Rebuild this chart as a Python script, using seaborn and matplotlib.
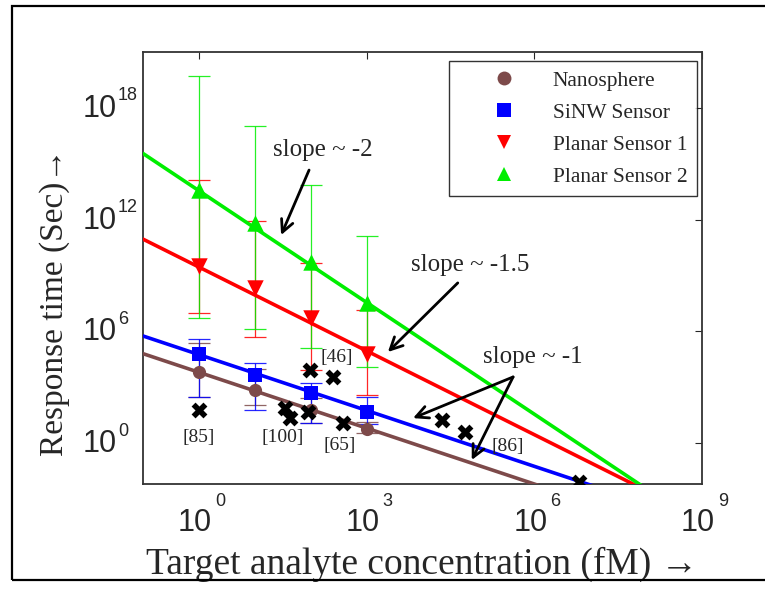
import numpy as np
import pandas as pd
import matplotlib
matplotlib.use("Agg")
import matplotlib.pyplot as plt
import seaborn as sns
from matplotlib.lines import Line2D
from matplotlib.patches import Rectangle

# ---- data (all values are log10) -------------------------------------------
# target concentration (fM) at which each sensor type was evaluated
conc_log = [0, 1, 2, 3]

series_names = ["Nanosphere", "SiNW Sensor", "Planar Sensor 1", "Planar Sensor 2"]

# response time (s)
nanosphere_t = [3.8, 2.83, 1.8, 0.75]
sinw_t = [4.76, 3.64, 2.67, 1.66]
planar1_t = [9.52, 8.32, 6.71, 4.8]
planar2_t = [13.6, 11.8, 9.7, 7.5]

# error-bar limits (s): lower / upper
nanosphere_lo = [2.46, 2.03, 1.07, 0.55]
nanosphere_hi = [5.4, 4.0, 2.4, 1.12]
sinw_lo = [2.46, 1.76, 1.07, 1.0]
sinw_hi = [5.6, 4.28, 3.2, 2.47]
planar1_lo = [7.0, 5.67, 3.9, 2.57]
planar1_hi = [14.1, 11.9, 9.68, 7.17]
planar2_lo = [6.7, 6.15, 5.08, 4.06]
planar2_hi = [19.7, 17.0, 13.85, 11.1]

# power-law trends: log t = intercept + slope * log C
trend_intercept = [3.8, 4.75, 9.45, 13.55]
trend_slope = [-1.0, -1.0, -1.5, -2.0]

# reported experiments from the literature
lit_conc = [0, 1.54, 1.63, 1.95, 1.99, 2.4, 2.58, 4.35, 4.76, 6.8]
lit_time = [1.77, 1.88, 1.34, 1.66, 3.92, 3.54, 1.07, 1.24, 0.6, -2.1]
ref_labels = ["[85]", "[100]", "[46]", "[65]", "[86]"]

# decade ticks
x_tick_exp = [0, 3, 6, 9]
y_tick_exp = [0, 6, 12, 18]

# ---- styling ----------------------------------------------------------------
sns.set_style("white")
plt.rcParams["font.family"] = ["Liberation Serif", "DejaVu Serif"]

colors = ["#7d4a4a", "#0000ff", "#ff0000", "#00ee00"]
markers = ["o", "s", "v", "^"]
msizes = [90, 105, 140, 140]
palette = dict(zip(series_names, colors))

times = [nanosphere_t, sinw_t, planar1_t, planar2_t]
lows = [nanosphere_lo, sinw_lo, planar1_lo, planar2_lo]
highs = [nanosphere_hi, sinw_hi, planar1_hi, planar2_hi]

points = pd.DataFrame({
    "series": np.repeat(series_names, len(conc_log)),
    "conc": np.tile(10.0 ** np.array(conc_log), len(series_names)),
    "time": 10.0 ** np.concatenate(times),
})

xlim_log = (-1, 9)
ylim_log = (-2.2, 21)
span = np.array(xlim_log, dtype=float)
trend = pd.DataFrame({
    "series": np.repeat(series_names, 2),
    "conc": np.tile(10.0 ** span, len(series_names)),
    "time": 10.0 ** np.concatenate(
        [b + m * span for b, m in zip(trend_intercept, trend_slope)]),
})

fig = plt.figure(figsize=(7.65, 5.91), dpi=100)
ax = fig.add_axes([0.187, 0.181, 0.7307, 0.731])
ax.set_xscale("log")
ax.set_yscale("log")

# error bars
xs = 10.0 ** np.array(conc_log)
for t, lo, hi, c in zip(times, lows, highs, colors):
    y = 10.0 ** np.array(t)
    ax.errorbar(xs, y, yerr=[y - 10.0 ** np.array(lo), 10.0 ** np.array(hi) - y],
                fmt="none", ecolor=c, elinewidth=0.9, capsize=8, capthick=0.9,
                alpha=0.85, zorder=2)

# trend lines
sns.lineplot(data=trend, x="conc", y="time", hue="series", palette=palette,
             linewidth=2.6, legend=False, ax=ax, zorder=3)

# sensor markers
for name, mk, s in zip(series_names, markers, msizes):
    sns.scatterplot(data=points[points.series == name], x="conc", y="time",
                    color=palette[name], marker=mk, s=s, linewidth=0,
                    legend=False, ax=ax, zorder=4)

# literature points
sns.scatterplot(x=10.0 ** np.array(lit_conc), y=10.0 ** np.array(lit_time),
                marker="X", color="black", s=130, linewidth=0, ax=ax, zorder=5)

ref_pos = [(0, 0.32), (1.5, 0.32), (2.47, 4.57), (2.52, -0.11), (5.53, -0.21)]
for lab, (px, py) in zip(ref_labels, ref_pos):
    ax.text(10 ** px, 10 ** py, lab, ha="center", va="center", fontsize=14)

# slope annotations
arrow_kw = dict(arrowstyle="->", lw=2, color="black", mutation_scale=22,
                shrinkA=0, shrinkB=0)
ax.text(10 ** 2.22, 10 ** 15.74, "slope ~ -2", ha="center", va="center", fontsize=18)
ax.annotate("", xy=(10 ** 1.47, 10 ** 11.17), xytext=(10 ** 1.97, 10 ** 14.66),
            arrowprops=arrow_kw)
ax.text(10 ** 4.85, 10 ** 9.56, "slope ~ -1.5", ha="center", va="center", fontsize=18)
ax.annotate("", xy=(10 ** 3.38, 10 ** 4.89), xytext=(10 ** 4.63, 10 ** 8.6),
            arrowprops=arrow_kw)
ax.text(10 ** 5.97, 10 ** 4.62, "slope ~ -1", ha="center", va="center", fontsize=18)
ax.annotate("", xy=(10 ** 3.83, 10 ** 1.34), xytext=(10 ** 5.62, 10 ** 3.55),
            arrowprops=arrow_kw)
ax.annotate("", xy=(10 ** 4.88, 10 ** -0.91), xytext=(10 ** 5.62, 10 ** 3.55),
            arrowprops=arrow_kw)

# axes and ticks
ax.set_xlim(10.0 ** xlim_log[0], 10.0 ** xlim_log[1])
ax.set_ylim(10.0 ** ylim_log[0], 10.0 ** ylim_log[1])
ax.set_xticks([10.0 ** e for e in x_tick_exp])
ax.set_yticks([10.0 ** e for e in y_tick_exp])
ax.set_xticklabels([])
ax.set_yticklabels([])
ax.minorticks_off()
ax.tick_params(direction="in", length=5, width=0.8, top=True, right=True)
for sp in ax.spines.values():
    sp.set_color("#333333")
    sp.set_linewidth(1.3)

# decade labels with a raised exponent
sans = dict(fontfamily="Liberation Sans", textcoords="offset pixels",
            annotation_clip=False)
for e in x_tick_exp:
    ax.annotate("10", xy=(10.0 ** e, 0), xycoords=("data", "axes fraction"),
                xytext=(-4, -39), ha="center", va="center", fontsize=22, **sans)
    ax.annotate(str(e), xy=(10.0 ** e, 0), xycoords=("data", "axes fraction"),
                xytext=(21, -17), ha="center", va="center", fontsize=13, **sans)
for e in y_tick_exp:
    ax.annotate("10", xy=(0, 10.0 ** e), xycoords=("axes fraction", "data"),
                xytext=(-26, -1), ha="right", va="center", fontsize=22, **sans)
    ax.annotate(str(e), xy=(0, 10.0 ** e), xycoords=("axes fraction", "data"),
                xytext=(-25, 12), ha="left", va="center", fontsize=13, **sans)

ax.set_xlabel("Target analyte concentration (fM) \u2192", fontsize=27, va="top")
ax.xaxis.set_label_coords(0.5, -0.145)
ax.set_ylabel("Response time (Sec)\u2192", fontsize=24)
ax.yaxis.set_label_coords(-0.13, 0.42)

handles = [Line2D([], [], linestyle="none", marker=mk, color=c, markersize=10,
                  markeredgewidth=0)
           for mk, c in zip(markers, colors)]
leg = ax.legend(handles, series_names, loc="upper right",
                bbox_to_anchor=(0.991, 0.979), borderaxespad=0, fontsize=15.5,
                frameon=True, fancybox=False, handlelength=4.2,
                handletextpad=0.15, borderpad=0.45, labelspacing=0.55)
leg.get_frame().set_edgecolor("black")
leg.get_frame().set_linewidth(1.0)

# outer frame of the figure
fig.add_artist(Rectangle((12 / 765, 1 - 580 / 591), 1.0, 574 / 591,
                         transform=fig.transFigure, fill=False, lw=1.6,
                         ec="black"))

fig.savefig("out.png", dpi=100)
